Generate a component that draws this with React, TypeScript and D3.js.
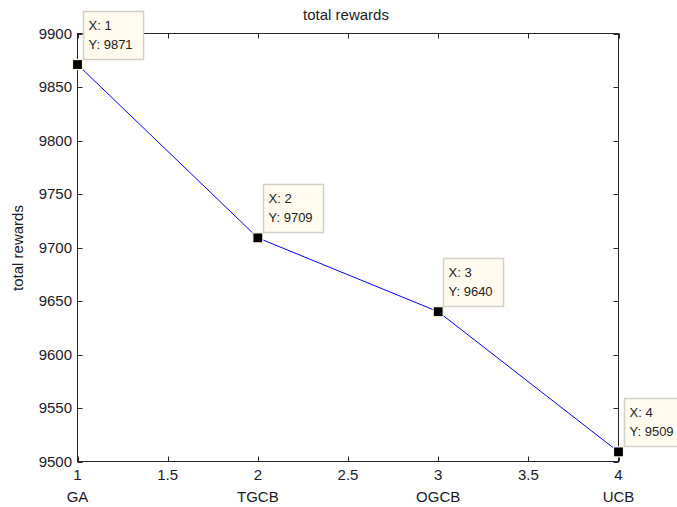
import React from "react";
import * as d3 from "d3";

const xValues = [1, 2, 3, 4];
const yValues = [9871, 9709, 9640, 9509];
const categories = ["GA", "TGCB", "OGCB", "UCB"];
const xTicks = [1, 1.5, 2, 2.5, 3, 3.5, 4];
const yTicks = [9500, 9550, 9600, 9650, 9700, 9750, 9800, 9850, 9900];
const titleText = "total rewards";
const yLabelText = "total rewards";

const W = 677;
const H = 507;
const left = 77.5;
const right = 618.5;
const top = 33.5;
const bottom = 461.5;

export default function App() {
  const x = d3.scaleLinear().domain([1, 4]).range([left, right]);
  const y = d3.scaleLinear().domain([9500, 9900]).range([bottom, top]);
  const line = d3
    .line<number>()
    .x((_, i) => x(xValues[i]))
    .y((d) => y(d));
  const font = "Arial, 'Liberation Sans', sans-serif";
  const tl = 5;
  return (
    <svg
      width={W}
      height={H}
      style={{ position: "absolute", left: 0, top: 0, background: "#fff" }}
      fontFamily={font}
    >
      <rect x={0} y={0} width={W} height={H} fill="#fff" />
      {/* box */}
      <rect x={left} y={top} width={right - left} height={bottom - top} fill="none" stroke="#262626" strokeWidth={1} />
      {/* x ticks */}
      {xTicks.map((t) => (
        <g key={"xt" + t}>
          <line x1={Math.round(x(t)) + 0.5} x2={Math.round(x(t)) + 0.5} y1={bottom} y2={bottom - tl} stroke="#262626" />
          <line x1={Math.round(x(t)) + 0.5} x2={Math.round(x(t)) + 0.5} y1={top} y2={top + tl} stroke="#262626" />
          <text x={x(t)} y={480} fontSize={15} textAnchor="middle" fill="#1a1a2a">
            {String(t)}
          </text>
        </g>
      ))}
      {categories.map((c, i) => (
        <text key={"cat" + c} x={x(xValues[i])} y={502} fontSize={15} textAnchor="middle" fill="#1a1a2a">
          {c}
        </text>
      ))}
      {/* y ticks */}
      {yTicks.map((t) => (
        <g key={"yt" + t}>
          <line x1={left} x2={left + tl} y1={Math.round(y(t)) + 0.5} y2={Math.round(y(t)) + 0.5} stroke="#262626" />
          <line x1={right} x2={right - tl} y1={Math.round(y(t)) + 0.5} y2={Math.round(y(t)) + 0.5} stroke="#262626" />
          <text x={72} y={y(t) + 5} fontSize={15} textAnchor="end" fill="#1a1a2a">
            {String(t)}
          </text>
        </g>
      ))}
      {/* title */}
      <text x={346} y={20} fontSize={15} textAnchor="middle" fill="#1a1a2a">
        {titleText}
      </text>
      <text
        transform={`translate(23,248) rotate(-90)`}
        fontSize={15}
        textAnchor="middle"
        fill="#1a1a2a"
      >
        {yLabelText}
      </text>
      {/* line */}
      <path d={line(yValues) || ""} fill="none" stroke="#0000ff" strokeWidth={1} />
      {/* markers */}
      {yValues.map((v, i) => (
        <rect
          key={"m" + i}
          x={x(xValues[i]) - 5}
          y={y(v) - 5}
          width={10}
          height={10}
          fill="#000"
          stroke="#fdf6e6"
          strokeWidth={1.2}
        />
      ))}
      {/* data tips */}
      {yValues.map((v, i) => {
        const px = x(xValues[i]);
        const py = y(v);
        const bx = Math.round(px + 5) + 0.5;
        const by = Math.round(py - 54) + 0.5;
        return (
          <g key={"tip" + i}>
            <rect x={bx} y={by} width={60} height={48} fill="#fffbef" stroke="#d3d0c8" strokeWidth={1.5} />
            <text x={bx + 5} y={by + 18} fontSize={13} fill="#222">
              {`X: ${xValues[i]}`}
            </text>
            <text x={bx + 5} y={by + 37} fontSize={13} fill="#222">
              {`Y: ${v}`}
            </text>
          </g>
        );
      })}
    </svg>
  );
}
